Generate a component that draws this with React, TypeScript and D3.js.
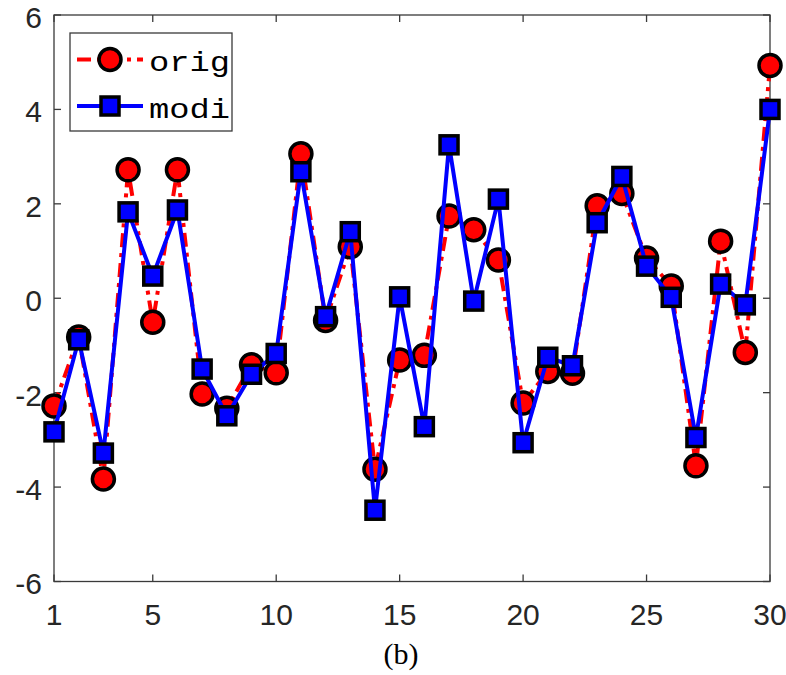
import { useMemo } from 'react';
import * as d3 from 'd3';

const X_TICKS = [1, 5, 10, 15, 20, 25, 30];
const Y_TICKS = [-6, -4, -2, 0, 2, 4, 6];

const ORIG = [
  -2.28, -0.82, -3.83, 2.72, -0.51, 2.72, -2.03, -2.33, -1.41, -1.58,
  3.06, -0.47, 1.09, -3.62, -1.31, -1.21, 1.74, 1.45, 0.81, -2.22,
  -1.55, -1.59, 1.96, 2.22, 0.85, 0.26, -3.55, 1.21, -1.15, 4.93,
];
const MODI = [
  -2.83, -0.88, -3.28, 1.83, 0.47, 1.87, -1.5, -2.49, -1.61, -1.17,
  2.68, -0.39, 1.41, -4.49, 0.03, -2.72, 3.25, -0.06, 2.1, -3.06,
  -1.25, -1.43, 1.6, 2.58, 0.68, 0.02, -2.95, 0.3, -0.14, 4.0,
];

const W = 786;
const H = 675;
const M = { left: 54, right: 16, top: 15, bottom: 93.5 };
const AXIS_COLOR = '#3a3a3a';
const TICK_LEN = 7;
const SANS = "'Liberation Sans', Arial, sans-serif";
const MONO = "'Liberation Mono', 'Courier New', monospace";

export default function App() {
  const x = useMemo(() => d3.scaleLinear().domain([1, 30]).range([M.left, W - M.right]), []);
  const y = useMemo(() => d3.scaleLinear().domain([-6, 6]).range([H - M.bottom, M.top]), []);
  const line = d3.line<number>().x((_, i) => x(i + 1)).y((d) => y(d));

  const x0 = x.range()[0];
  const x1 = x.range()[1];
  const y0 = y.range()[0];
  const y1 = y.range()[1];
  const sq = 18;

  return (
    <svg width={W} height={H} style={{ position: 'absolute', left: 0, top: 0, background: '#fff' }}>
      {/* axes box */}
      <rect x={x0} y={y1} width={x1 - x0} height={y0 - y1} fill="none" stroke={AXIS_COLOR} strokeWidth={1.3} />
      {X_TICKS.map((t) => (
        <g key={'x' + t}>
          <line x1={x(t)} x2={x(t)} y1={y0} y2={y0 - TICK_LEN} stroke={AXIS_COLOR} strokeWidth={1.3} />
          <line x1={x(t)} x2={x(t)} y1={y1} y2={y1 + TICK_LEN} stroke={AXIS_COLOR} strokeWidth={1.3} />
          <text x={x(t)} y={y0 + 43.5} textAnchor="middle" fontFamily={SANS} fontSize={30} fill="#262626">
            {t}
          </text>
        </g>
      ))}
      {Y_TICKS.map((t) => (
        <g key={'y' + t}>
          <line x1={x0} x2={x0 + TICK_LEN} y1={y(t)} y2={y(t)} stroke={AXIS_COLOR} strokeWidth={1.3} />
          <line x1={x1} x2={x1 - TICK_LEN} y1={y(t)} y2={y(t)} stroke={AXIS_COLOR} strokeWidth={1.3} />
          <text x={x0 - 12} y={y(t)} dy="0.43em" textAnchor="end" fontFamily={SANS} fontSize={30} fill="#262626">
            {t}
          </text>
        </g>
      ))}

      {/* orig series */}
      <path d={line(ORIG) ?? ''} fill="none" stroke="#ff0000" strokeWidth={4} strokeDasharray="14 6 4 6" />
      {ORIG.map((v, i) => (
        <circle key={'o' + i} cx={x(i + 1)} cy={y(v)} r={11} fill="#ff0000" stroke="#000" strokeWidth={3.5} />
      ))}

      {/* modi series */}
      <path d={line(MODI) ?? ''} fill="none" stroke="#0000ff" strokeWidth={4} />
      {MODI.map((v, i) => (
        <rect key={'m' + i} x={x(i + 1) - sq / 2} y={y(v) - sq / 2} width={sq} height={sq} fill="#0000ff" stroke="#000" strokeWidth={3.5} />
      ))}

      {/* legend */}
      <g>
        <rect x={70} y={33} width={162} height={98} fill="#fff" stroke={AXIS_COLOR} strokeWidth={1.3} />
        <line x1={77} x2={143} y1={59.5} y2={59.5} stroke="#ff0000" strokeWidth={4} strokeDasharray="14 6 4 6" />
        <circle cx={110} cy={59.5} r={11} fill="#ff0000" stroke="#000" strokeWidth={3.5} />
        <text x={149} y={71} fontFamily={MONO} fontSize={27} textLength={81} lengthAdjust="spacingAndGlyphs" fill="#000">
          orig
        </text>
        <line x1={77} x2={143} y1={106} y2={106} stroke="#0000ff" strokeWidth={4} />
        <rect x={110 - sq / 2} y={106 - sq / 2} width={sq} height={sq} fill="#0000ff" stroke="#000" strokeWidth={3.5} />
        <text x={149} y={118} fontFamily={MONO} fontSize={27} textLength={81} lengthAdjust="spacingAndGlyphs" fill="#000">
          modi
        </text>
      </g>

      <text x={401} y={664} textAnchor="middle" fontFamily="'Liberation Serif', 'DejaVu Serif', serif" fontSize={30} fill="#000">
        (b)
      </text>
    </svg>
  );
}
